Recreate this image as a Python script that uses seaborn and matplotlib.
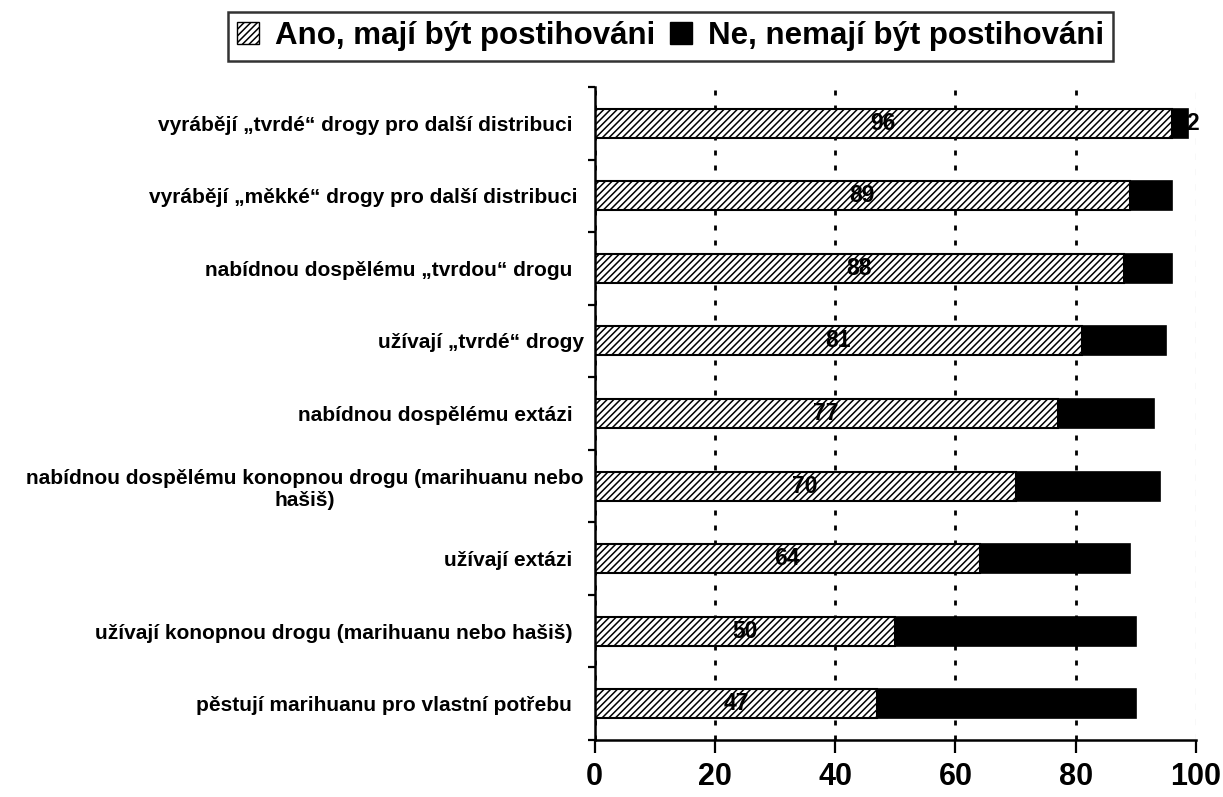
import numpy as np
import pandas as pd
import matplotlib
matplotlib.use("Agg")
import matplotlib.pyplot as plt
import seaborn as sns
from matplotlib.patches import Patch

# --- data ---
categories = [
    "vyrábějí „tvrdé“ drogy pro další distribuci  ",
    "vyrábějí „měkké“ drogy pro další distribuci ",
    "nabídnou dospělému „tvrdou“ drogu  ",
    "užívají „tvrdé“ drogy",
    "nabídnou dospělému extázi  ",
    "nabídnou dospělému konopnou drogu (marihuanu nebo\nhašiš)",
    "užívají extázi  ",
    "užívají konopnou drogu (marihuanu nebo hašiš)  ",
    "pěstují marihuanu pro vlastní potřebu  ",
]
ano = [96, 89, 88, 81, 77, 70, 64, 50, 47]
ne = [2.6, 7, 8, 14, 16, 24, 25, 40, 43]
series_names = ["Ano, mají být postihováni", "Ne, nemají být postihováni"]
x_ticks = [0, 20, 40, 60, 80, 100]

df = pd.DataFrame({"cat": categories, "ano": ano, "ne": ne})
df["total"] = df["ano"] + df["ne"]

sns.set_style("white")
plt.rcParams["font.family"] = ["Liberation Sans", "DejaVu Sans"]
plt.rcParams["text.color"] = "black"
plt.rcParams["xtick.color"] = "black"
plt.rcParams["ytick.color"] = "black"
plt.rcParams["hatch.linewidth"] = 1.1
plt.rcParams["lines.scale_dashes"] = False

fig = plt.figure(figsize=(12.23, 7.97), dpi=100)
ax = fig.add_axes([0.4863, 0.0715, 0.4916, 0.8193])

# black segment drawn as full length, hatched part on top
sns.barplot(data=df, x="total", y="cat", orient="h", color="black",
            edgecolor="black", linewidth=1.2, width=0.4, ax=ax, saturation=1)
sns.barplot(data=df, x="ano", y="cat", orient="h", color="white",
            edgecolor="black", linewidth=1.5, width=0.4, hatch="/////",
            ax=ax, saturation=1)

# value labels (black labels on black segments stay hidden, like in the original)
for i, row in df.iterrows():
    ax.text(row["ano"] / 2, i, f"{row['ano']:.0f}", ha="center", va="center",
            fontsize=16.5, fontweight="bold", color="black")
    if row["ne"] < 5:
        xpos = row["ano"] + row["ne"] + 0.8
    else:
        xpos = row["ano"] + row["ne"] / 2
    ax.text(xpos, i, f"{int(row['ne'])}", ha="center", va="center",
            fontsize=16.5, fontweight="bold", color="black")

ax.set_xlim(0, 100)
ax.set_ylim(8.5, -0.5)
ax.set_xticks(x_ticks)
ax.set_xticklabels([str(t) for t in x_ticks], fontsize=22, fontweight="bold")
ax.set_yticks(range(len(categories)))
ax.set_yticklabels(categories, fontsize=15, fontweight="bold",
                   multialignment="center")
ax.set_yticks(np.arange(-0.5, len(categories), 1), minor=True)
ax.tick_params(axis="y", which="major", length=0, pad=8)
ax.tick_params(axis="y", which="minor", length=5, width=1.6, color="black",
               direction="out", left=True)
ax.tick_params(axis="x", length=9, width=1.6, color="black", direction="out",
               pad=7, bottom=True)
ax.set_xlabel("")
ax.set_ylabel("")

for side in ["top", "right"]:
    ax.spines[side].set_visible(False)
for side in ["left", "bottom"]:
    ax.spines[side].set_color("black")
    ax.spines[side].set_linewidth(1.8)

# dotted vertical grid, the 100 line is thin grey dashes
ax.set_axisbelow(True)
ax.xaxis.grid(True, color="black", linewidth=2.0, linestyle=(0, (3.6, 7.2)))
ax.yaxis.grid(False)
gl = ax.get_xgridlines()
gl[-1].set_color("#808080")
gl[-1].set_linewidth(0.8)
gl[-1].set_linestyle((0, (4.5, 6.5)))

handles = [Patch(facecolor="white", edgecolor="black", hatch="/////", linewidth=1),
           Patch(facecolor="black", edgecolor="black")]
leg = fig.legend(handles, series_names, loc="upper center", ncol=2,
                 bbox_to_anchor=(0.5483, 0.985), frameon=True, fancybox=False,
                 prop={"size": 22.5, "weight": "bold"}, handlelength=0.7,
                 handleheight=0.7, handletextpad=0.5, columnspacing=0.5,
                 borderpad=0.3, borderaxespad=0)
leg.get_frame().set_edgecolor("black")
leg.get_frame().set_linewidth(1.8)

fig.savefig("out.png", dpi=100, facecolor="white")
